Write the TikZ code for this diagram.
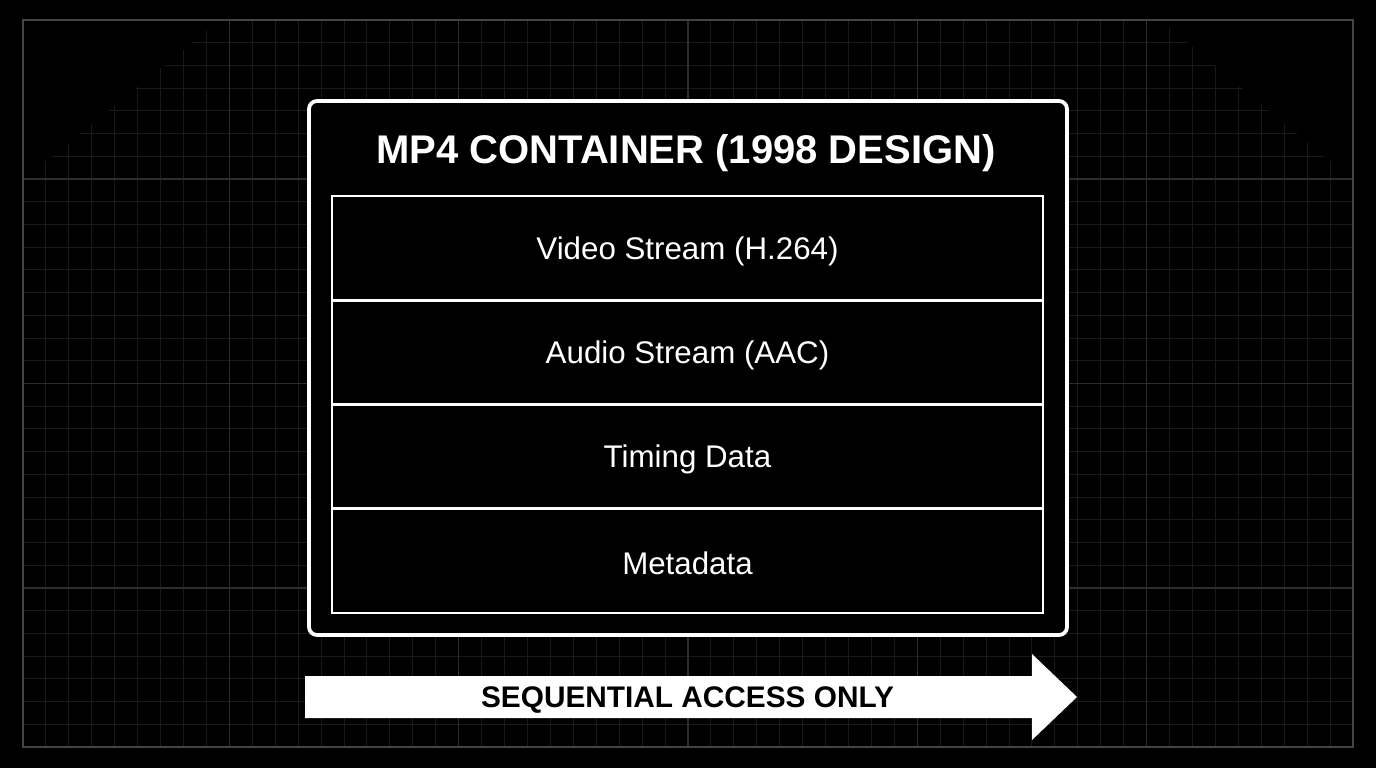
\documentclass[tikz,border=0pt]{standalone}
\usepackage{fontspec}
\setmainfont{Liberation Sans}
\begin{document}
\begin{tikzpicture}[x=1pt,y=-1pt,
  minorgrid/.style={draw=gridminor,line width=1pt},
  majorgrid/.style={draw=gridmajor,line width=1.3pt},
  rowbox/.style={draw=white,line width=2.6pt,minimum width=711pt,minimum height=104.2pt,inner sep=0pt,text=white},
  rowtext/.style={text=white,font=\fontsize{31.3}{32}\selectfont,inner sep=0pt},
  container/.style={draw=white,line width=3.8pt,rounded corners=8pt},
  titletext/.style={text=white,font=\fontsize{40}{40}\selectfont\bfseries,inner sep=0pt},
  arrowtext/.style={text=black,font=\fontsize{29.8}{30}\selectfont\bfseries,inner sep=0pt}]
\definecolor{gridminor}{RGB}{25,25,25}
\definecolor{gridmajor}{RGB}{45,45,45}
\definecolor{gridframe}{RGB}{68,68,68}
\fill[black] (0,0) rectangle (1376,768);
\useasboundingbox (0,0) rectangle (1376,768);
% minor grid, clipped
\begin{scope}
\clip (23,180) -- (220,20) -- (1160,20) -- (1353,180) -- (1353,747) -- (23,747) -- cycle;
\foreach \k in {1,...,57} {\draw[minorgrid] ({23+22.931*\k},20) -- ({23+22.931*\k},747);}
\foreach \k in {1,...,31} {\draw[minorgrid] (23,{20+22.72*\k}) -- (1353,{20+22.72*\k});}
\end{scope}
\foreach \k in {9,19,29,39,49} {\draw[majorgrid] ({23+22.931*\k},20) -- ({23+22.931*\k},747);}
\foreach \k in {7,16,25} {\draw[majorgrid] (23,{20+22.72*\k}) -- (1353,{20+22.72*\k});}
\draw[gridframe,line width=1.5pt] (23,20) rectangle (1353,747);
% container
\draw[container,fill=black] (309,101) rectangle (1067,635);
\node[titletext] (title) at (686,153) {MP4 CONTAINER (1998 DESIGN)};
\node[rowbox] (video) at (687.5,248.2) {};
\node[rowbox] (audio) at (687.5,352.4) {};
\node[rowbox] (timing) at (687.5,456.6) {};
\node[rowbox] (meta) at (687.5,560.8) {};
\node[rowtext] (videot) at ([yshift=-3pt]video.center) {Video Stream (H.264)};
\node[rowtext] (audiot) at ([yshift=-3pt]audio.center) {Audio Stream (AAC)};
\node[rowtext] (timingt) at ([yshift=-3pt]timing.center) {Timing Data};
\node[rowtext] (metat) at ([yshift=-3pt]meta.center) {Metadata};
% arrow
\fill[white] (305,676) -- (1032,676) -- (1032,654) -- (1077,697) -- (1032,740) -- (1032,718) -- (305,718) -- cycle;
\node[arrowtext] (seq) at (687.5,700) {SEQUENTIAL ACCESS ONLY};
\end{tikzpicture}
\end{document}
